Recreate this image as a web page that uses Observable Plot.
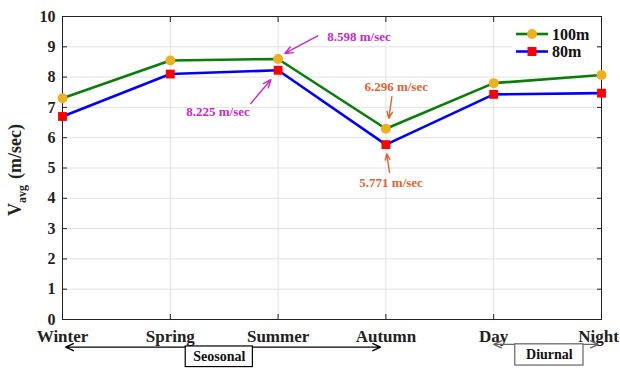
<!DOCTYPE html>
<html>
<head>
<meta charset="utf-8">
<script src="https://cdn.jsdelivr.net/npm/d3@7"></script>
<script src="https://cdn.jsdelivr.net/npm/@observablehq/plot@0.6"></script>
<style>
  html, body { margin: 0; padding: 0; background: #fff; }
  #chart svg { display: block; overflow: visible; }
</style>
</head>
<body>
<div id="chart"></div>
<script>
// Average wind speed by season and by time of day, at two hub heights
const periods = ["Winter", "Spring", "Summer", "Autumn", "Day", "Night"];
const speed100 = [7.30, 8.55, 8.598, 6.296, 7.80, 8.07];
const speed80 = [6.70, 8.10, 8.225, 5.771, 7.43, 7.47];
const yTicks = [0, 1, 2, 3, 4, 5, 6, 7, 8, 9, 10];
const seriesNames = ["100m", "80m"];

const FONT = "'Liberation Serif', 'Times New Roman', serif";
const styles = {
  "100m": {line: "#0a7d0a", marker: "#EDB120", symbol: "circle", r: 5},
  "80m": {line: "#0000ff", marker: "#ff0000", symbol: "square", r: 5}
};

const rows = [];
[speed100, speed80].forEach((vals, s) =>
  vals.forEach((v, i) => rows.push({series: seriesNames[s], i, v}))
);

// callouts for the extreme values: text spot and arrow, in axis units
const callouts = [
  {series: 0, i: 2, color: "#c62ac6", tx: 2.751, ty: 9.33, x1: 2.367, y1: 9.364, x2: 2.063, y2: 8.78},
  {series: 1, i: 2, color: "#c62ac6", tx: 1.443, ty: 6.868, x1: 1.747, y1: 7.13, x2: 1.933, y2: 7.913},
  {series: 0, i: 3, color: "#e0642e", tx: 3.095, ty: 7.68, x1: 3.055, y1: 7.35, x2: 3.027, y2: 6.637},
  {series: 1, i: 3, color: "#e0642e", tx: 3.048, ty: 4.507, x1: 3.033, y1: 4.857, x2: 3.008, y2: 5.463}
].map(c => ({...c, label: `${[speed100, speed80][c.series][c.i]} m/sec`}));

// period groups drawn under the x axis
const groups = [
  {label: "Seosonal", from: 0.03, to: 2.95, y: -0.913, bx1: 1.143, bx2: 1.766, by1: -0.89, by2: -1.57, color: "#000"},
  {label: "Diurnal", from: 4.0, to: 4.97, y: -0.82, bx1: 4.2, bx2: 4.833, by1: -0.82, by2: -1.52, color: "#666"}
].map(g => ({...g, mid: (g.from + g.to) / 2}));

const xLabelStyle = {tickSize: 0, tickPadding: 10, fontSize: 17, fontWeight: "bold", fill: "#222", tickFormat: i => periods[i]};
const xIdx = d3.range(periods.length);

const plot = Plot.plot({
  width: 620,
  height: 368,
  marginTop: 16,
  marginBottom: 49,
  marginLeft: 62,
  marginRight: 19,
  style: {fontFamily: FONT, fontWeight: "bold", fontSize: "16px", background: "#fff", color: "#222"},
  x: {domain: [0, 5]},
  y: {domain: [0, 10]},
  marks: [
    Plot.gridX(xIdx, {stroke: "#e2e2e2", strokeOpacity: 1}),
    Plot.gridY(yTicks, {stroke: "#e2e2e2", strokeOpacity: 1}),
    Plot.frame({stroke: "#222"}),
    // tick labels (the last one nudged in so it stays on the page)
    Plot.axisY(yTicks, {tickSize: 0, tickPadding: 7, fontSize: 16, fontWeight: "bold", fill: "#222"}),
    Plot.axisX(xIdx.slice(0, -1), xLabelStyle),
    Plot.axisX(xIdx.slice(-1), {...xLabelStyle, dx: -3}),
    // inward tick marks on all four sides
    Plot.axisY(yTicks, {anchor: "left", tickSize: 5, dx: 5, tickFormat: () => "", stroke: "#222"}),
    Plot.axisY(yTicks, {anchor: "right", tickSize: 5, dx: -5, tickFormat: () => "", stroke: "#222"}),
    Plot.axisX(xIdx, {anchor: "bottom", tickSize: 5, dy: -5, tickFormat: () => "", stroke: "#222"}),
    Plot.axisX(xIdx, {anchor: "top", tickSize: 5, dy: 5, tickFormat: () => "", stroke: "#222"}),
    // series
    ...seriesNames.map(name => Plot.line(rows.filter(d => d.series === name), {
      x: "i", y: "v", stroke: styles[name].line, strokeWidth: 2.6
    })),
    ...seriesNames.map(name => Plot.dot(rows.filter(d => d.series === name), {
      x: "i", y: "v", symbol: styles[name].symbol, r: styles[name].r,
      fill: styles[name].marker, stroke: "none"
    })),
    // value callouts
    Plot.arrow(callouts, {
      x1: "x1", y1: "y1", x2: "x2", y2: "y2", stroke: "color",
      strokeWidth: 1.4, headLength: 9, headAngle: 45
    }),
    Plot.text(callouts, {
      x: "tx", y: "ty", text: "label", fill: "color",
      fontSize: 13, fontWeight: "bold", fontFamily: FONT
    }),
    // group arrows (two halves give a double head)
    Plot.arrow(groups, {x1: "mid", x2: "from", y1: "y", y2: "y", stroke: "color", strokeWidth: 1.4, headLength: 9, headAngle: 50}),
    Plot.arrow(groups, {x1: "mid", x2: "to", y1: "y", y2: "y", stroke: "color", strokeWidth: 1.4, headLength: 9, headAngle: 50}),
    Plot.rect(groups, {x1: "bx1", x2: "bx2", y1: "by1", y2: "by2", fill: "#fff", stroke: "color", strokeWidth: 1.2}),
    Plot.text(groups, {
      x: d => (d.bx1 + d.bx2) / 2, y: d => (d.by1 + d.by2) / 2, text: "label",
      fill: "#111", fontSize: 14, fontWeight: "bold", fontFamily: FONT
    })
  ]
});

document.getElementById("chart").appendChild(plot);

const svg = d3.select(plot);

// legend in the upper-right corner of the frame
const legend = svg.append("g")
  .attr("font-family", FONT).attr("font-weight", "bold").attr("text-anchor", "start");
legend.append("rect").attr("x", 512).attr("y", 21).attr("width", 84).attr("height", 41).attr("fill", "#fff");
seriesNames.forEach((name, k) => {
  const y = 34 + k * 17.5;
  const st = styles[name];
  legend.append("line").attr("x1", 516).attr("x2", 548).attr("y1", y).attr("y2", y)
    .attr("stroke", st.line).attr("stroke-width", 2.6);
  if (st.symbol === "circle") {
    legend.append("circle").attr("cx", 532).attr("cy", y).attr("r", 5).attr("fill", st.marker);
  } else {
    legend.append("rect").attr("x", 527.5).attr("y", y - 4.5).attr("width", 9).attr("height", 9).attr("fill", st.marker);
  }
  legend.append("text").attr("x", 552).attr("y", y).attr("dy", "0.35em")
    .attr("text-anchor", "start").attr("font-size", 16).attr("fill", "#111").text(name);
});

// y-axis title with subscript
const ylab = svg.append("text")
  .attr("transform", "translate(21,170) rotate(-90)")
  .attr("text-anchor", "middle")
  .attr("font-family", FONT).attr("font-weight", "bold")
  .attr("font-size", 18).attr("fill", "#222");
ylab.append("tspan").text("V");
ylab.append("tspan").attr("font-size", 12).attr("dy", 5).text("avg");
ylab.append("tspan").attr("dy", -5).attr("dx", 6).text("(m/sec)");
</script>
</body>
</html>
